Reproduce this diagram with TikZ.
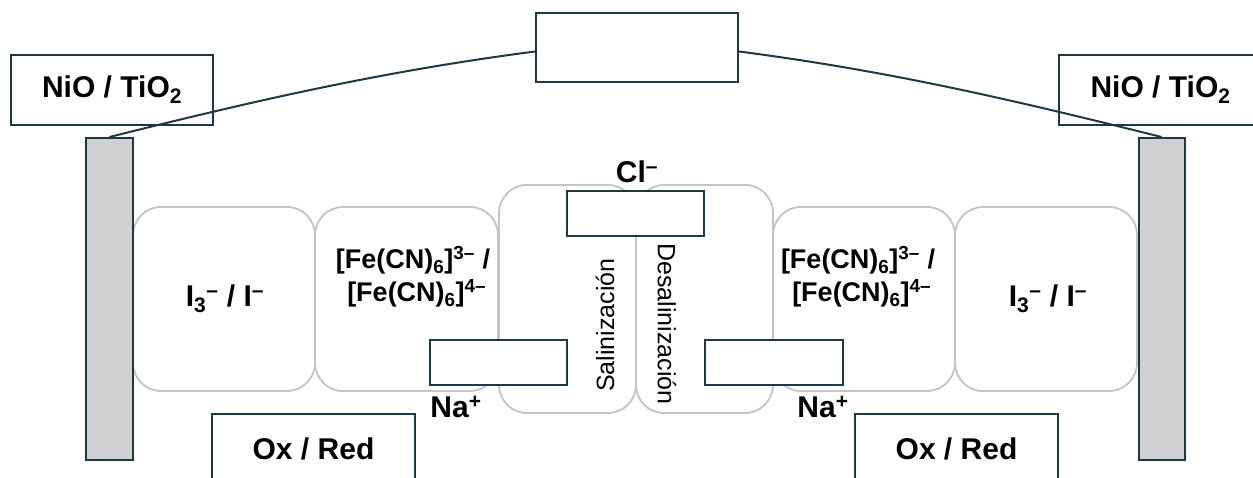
\documentclass[tikz,border=0pt]{standalone}
\usepackage{fontspec}
\setmainfont{Liberation Sans}
\definecolor{dk}{HTML}{1E3944}
\definecolor{elgray}{HTML}{D0D0D2}
\definecolor{lg}{HTML}{C4C4C4}
\newcommand{\mysub}[1]{\textsubscript{#1}}
\newcommand{\mysup}[1]{\textsuperscript{#1}}
\begin{document}
\begin{tikzpicture}[x=1pt,y=-1pt,
  cell/.style={draw=lg, line width=1.8pt, rounded corners=28pt, inner sep=0pt},
  darkbox/.style={draw=dk, line width=2pt, fill=white, inner sep=0pt},
  openbox/.style={draw=dk, line width=2pt, inner sep=0pt},
  elec/.style={draw=dk, line width=2pt, fill=elgray, inner sep=0pt},
  lbl/.style={font=\fontsize{30}{34}\selectfont\bfseries, inner sep=0pt, align=center},
  felbl/.style={font=\fontsize{27}{33}\selectfont\bfseries, inner sep=0pt, align=center},
  rotlbl/.style={font=\fontsize{25}{28}\selectfont, inner sep=0pt},
  wire/.style={draw=dk, line width=2pt}]
\useasboundingbox (0,0) rectangle (1253,478);
\clip (0,0) rectangle (1253,478);

% cells
\node[cell, minimum width=182pt, minimum height=184pt] (c1) at (224,299) {};
\node[cell, minimum width=183pt, minimum height=184pt] (c2) at (406.5,299) {};
\node[cell, minimum width=137pt, minimum height=228pt] (c3) at (567.5,299) {};
\node[cell, minimum width=137pt, minimum height=228pt] (c4) at (704.5,299) {};
\node[cell, minimum width=182pt, minimum height=184pt] (c5) at (864,299) {};
\node[cell, minimum width=182pt, minimum height=184pt] (c6) at (1046,299) {};

% electrodes
\node[elec, minimum width=47pt, minimum height=322pt] (eL) at (109.5,299) {};
\node[elec, minimum width=46pt, minimum height=322pt] (eR) at (1161.5,299) {};

% label boxes
\node[openbox, minimum width=202pt, minimum height=70pt] (nL) at (112,90) {};
\node[openbox, minimum width=203pt, minimum height=70pt] (nR) at (1160.5,90) {};
\node[darkbox, minimum width=202pt, minimum height=69pt] (top) at (637,47.5) {};
\node[darkbox, minimum width=137pt, minimum height=45pt] (cl) at (635.5,213.5) {};
\node[darkbox, minimum width=137pt, minimum height=45pt] (naL) at (498.5,362.5) {};
\node[darkbox, minimum width=138pt, minimum height=45pt] (naR) at (774,362.5) {};
\node[darkbox, minimum width=203pt, minimum height=100pt, anchor=north] (oxL) at (313.5,413) {};
\node[darkbox, minimum width=203pt, minimum height=100pt, anchor=north] (oxR) at (956.5,413) {};

% wire
\draw[wire] (eL.north) .. controls +(150,-37.5) and +(-150,19.5) .. ([yshift=-4pt]top.west);
\draw[wire] ([yshift=-4pt]top.east) .. controls +(150,19.5) and +(-150,-37.5) .. (eR.north);

% texts
\node[lbl] at (nL.center) {NiO / TiO\mysub{2}};
\node[lbl] at (nR.center) {NiO / TiO\mysub{2}};
\node[lbl] (i3L) at (225,299) {I\mysub{3}\mysup{–} / I\mysup{–}};
\node[lbl] (i3R) at (1048,299) {I\mysub{3}\mysup{–} / I\mysup{–}};
\node[felbl] (feL) at (413,277) {[Fe(CN)\mysub{6}]\mysup{3–} /\\\ [Fe(CN)\mysub{6}]\mysup{4–}};
\node[felbl] (feR) at (858,277) {[Fe(CN)\mysub{6}]\mysup{3–} /\\\ [Fe(CN)\mysub{6}]\mysup{4–}};
\node[lbl] (clt) at (637,172) {Cl\mysup{–}};
\node[lbl] (naLt) at (456,407) {Na\mysup{+}};
\node[lbl] (naRt) at (823,407) {Na\mysup{+}};
\node[lbl] at ([yshift=-36pt]oxL.north) {Ox / Red};
\node[lbl] at ([yshift=-36pt]oxR.north) {Ox / Red};
\node[rotlbl, rotate=90] (sal) at (605,325) {Salinización};
\node[rotlbl, rotate=-90] (desal) at (667,324) {Desalinización};
\end{tikzpicture}
\end{document}
